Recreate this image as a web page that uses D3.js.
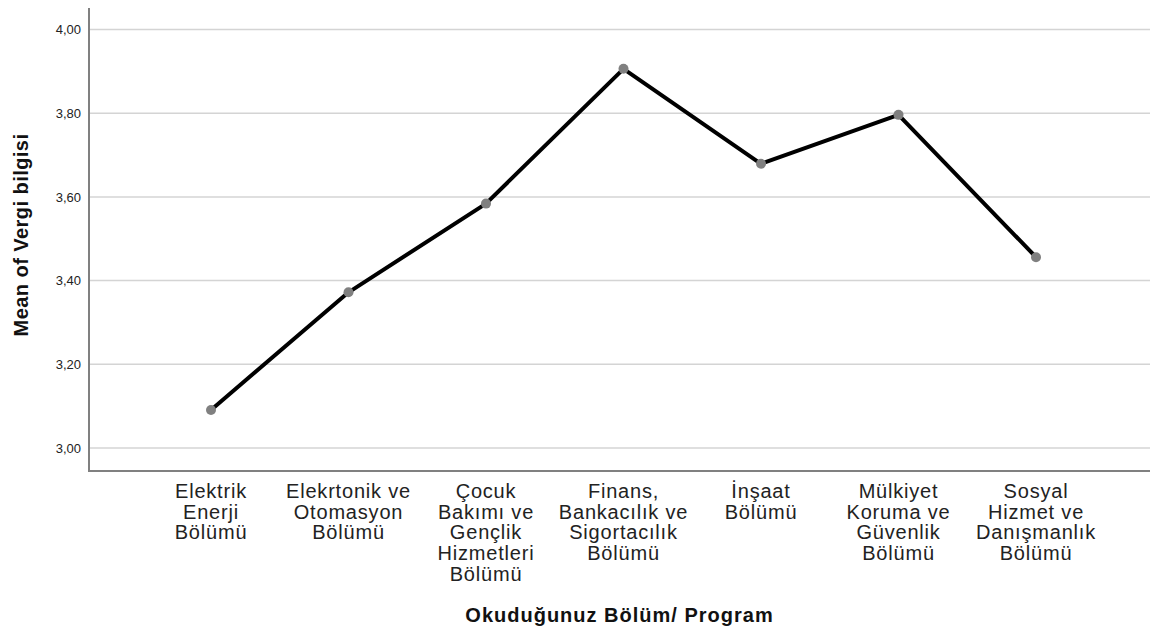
<!DOCTYPE html>
<html>
<head>
<meta charset="utf-8">
<script src="https://cdn.jsdelivr.net/npm/d3@7"></script>
<style>
  body { margin: 0; background: #fff; }
  svg { display: block; font-family: "Liberation Sans", Arial, sans-serif; }
</style>
</head>
<body>
<div id="chart"></div>
<script>
// category labels, split into the lines shown under the axis
const categories = [
    ["Elektrik", "Enerji", "Bölümü"],
    ["Elekrtonik ve", "Otomasyon", "Bölümü"],
    ["Çocuk", "Bakımı ve", "Gençlik", "Hizmetleri", "Bölümü"],
    ["Finans,", "Bankacılık ve", "Sigortacılık", "Bölümü"],
    ["İnşaat", "Bölümü"],
    ["Mülkiyet", "Koruma ve", "Güvenlik", "Bölümü"],
    ["Sosyal", "Hizmet ve", "Danışmanlık", "Bölümü"]
];
const means = [3.091, 3.372, 3.584, 3.906, 3.679, 3.796, 3.456];
const yTicks = [3.0, 3.2, 3.4, 3.6, 3.8, 4.0];

const width = 1150, height = 627;
const plot = { left: 89, right: 1150, top: 8, bottom: 471 };

const svg = d3.select('#chart').append('svg')
    .attr('width', width)
    .attr('height', height);

const ids = categories.map((c, i) => i);
const x = d3.scalePoint()
    .domain(ids)
    .range([211, 1036]);

const y = d3.scaleLinear()
    .domain([3.0, 4.0])
    .range([448, 29.5]);

// gridlines
svg.append('g')
    .selectAll('line')
    .data(yTicks)
    .enter().append('line')
    .attr('x1', plot.left)
    .attr('x2', plot.right)
    .attr('y1', d => y(d))
    .attr('y2', d => y(d))
    .attr('stroke', '#d4d4d4')
    .attr('stroke-width', 1.5);

// y tick labels
const fmt = d => d.toFixed(2).replace('.', ',');
svg.append('g')
    .selectAll('text')
    .data(yTicks)
    .enter().append('text')
    .attr('x', 81)
    .attr('y', d => y(d))
    .attr('dy', '0.36em')
    .attr('text-anchor', 'end')
    .attr('font-size', 13)
    .attr('fill', '#222')
    .text(fmt);

// axes lines
svg.append('line')
    .attr('x1', plot.left).attr('x2', plot.left)
    .attr('y1', plot.top).attr('y2', plot.bottom)
    .attr('stroke', '#808080').attr('stroke-width', 2);
svg.append('line')
    .attr('x1', plot.left - 1).attr('x2', plot.right)
    .attr('y1', plot.bottom).attr('y2', plot.bottom)
    .attr('stroke', '#808080').attr('stroke-width', 2);

// x tick labels (multi-line)
const labels = svg.append('g')
    .selectAll('text')
    .data(ids)
    .enter().append('text')
    .attr('text-anchor', 'middle')
    .attr('font-size', 20)
    .attr('fill', '#222')
    .attr('transform', d => `translate(${x(d)},498)`);

labels.selectAll('tspan')
    .data(d => categories[d])
    .enter().append('tspan')
    .attr('x', 0)
    .attr('y', (d, i) => i * 20.7)
    .style('letter-spacing', '0.8px')
    .text(d => d);

// the line
const line = d3.line()
    .x((d, i) => x(i))
    .y(d => y(d));

svg.append('path')
    .datum(means)
    .attr('d', line)
    .attr('fill', 'none')
    .attr('stroke', '#000')
    .attr('stroke-width', 4)
    .attr('stroke-linejoin', 'round');

svg.append('g')
    .selectAll('circle')
    .data(means)
    .enter().append('circle')
    .attr('cx', (d, i) => x(i))
    .attr('cy', d => y(d))
    .attr('r', 5)
    .attr('fill', '#808080');

// axis titles
svg.append('text')
    .attr('x', (plot.left + plot.right) / 2)
    .attr('y', 622)
    .attr('text-anchor', 'middle')
    .attr('font-size', 20)
    .attr('font-weight', 'bold')
    .attr('fill', '#111')
    .style('letter-spacing', '1px')
    .text('Okuduğunuz Bölüm/ Program');

svg.append('text')
    .attr('transform', 'translate(28,235) rotate(-90)')
    .attr('text-anchor', 'middle')
    .attr('font-size', 20)
    .attr('font-weight', 'bold')
    .attr('fill', '#111')
    .style('letter-spacing', '0.45px')
    .text('Mean of Vergi bilgisi');
</script>
</body>
</html>
